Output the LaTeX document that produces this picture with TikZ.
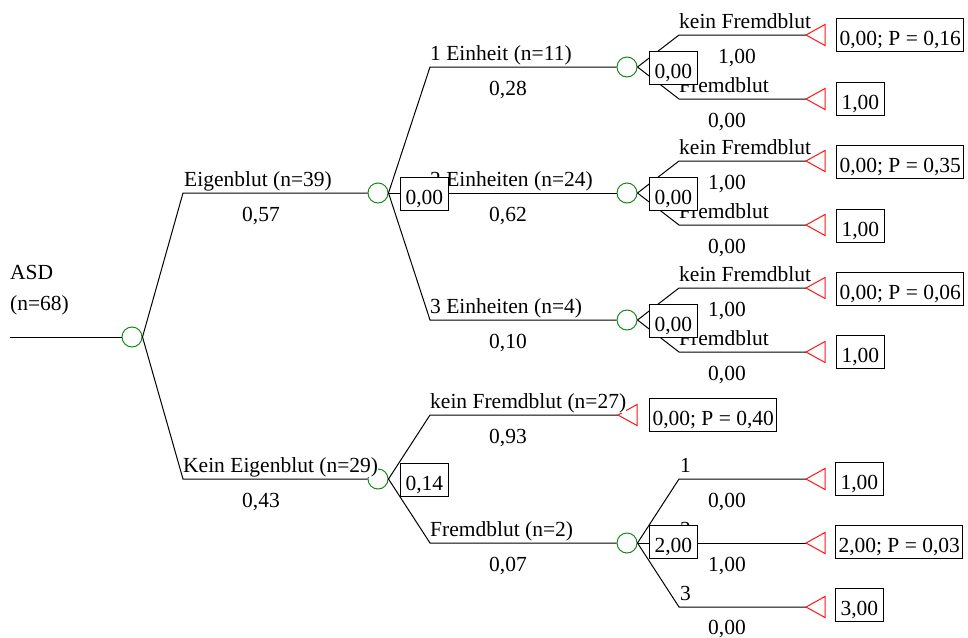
\documentclass[tikz,border=0pt]{standalone}
\usepackage{fontspec}
\setmainfont{Liberation Serif}
\definecolor{chancegreen}{RGB}{20,140,20}
\definecolor{endred}{RGB}{255,20,20}
\tikzset{
  branch/.style={line width=1pt, black},
  chance/.style={circle, draw=chancegreen, fill=white, line width=1pt, minimum size=20pt, inner sep=0pt},
  endmark/.style={draw=endred, fill=white, line width=1pt, line join=miter},
  lbl/.style={anchor=base west, fill=white, inner sep=0pt},
  prob/.style={anchor=base, inner sep=0pt},
  valbox/.style={draw, fill=white, line width=1pt, anchor=west, inner xsep=5pt, inner ysep=0pt, text height=27pt, text depth=5.5pt},
  payoff/.style={valbox, inner xsep=3pt}
}
\begin{document}
\begin{tikzpicture}[x=1pt, y=-1pt, font=\fontsize{21.5}{25}\selectfont]
\useasboundingbox (0,0) rectangle (968,637);

% chance nodes
\coordinate (root) at (10,337);
\node[chance] (c0)  at (132,337) {};
\node[chance] (c1)  at (378,193) {};
\node[chance] (c2)  at (378,479) {};
\node[chance] (c11) at (627,67) {};
\node[chance] (c12) at (627,193) {};
\node[chance] (c13) at (627,320) {};
\node[chance] (c21) at (627,543) {};

% kinks of the branches
\coordinate (k1) at (183,193);
\coordinate (k2) at (183,479);
\coordinate (k11) at (430,67);
\coordinate (k13) at (430,320);
\coordinate (k20) at (430,415);
\coordinate (k21) at (430,543);
\coordinate (k111) at (679,35);  \coordinate (k112) at (679,99);
\coordinate (k121) at (679,161); \coordinate (k122) at (679,225);
\coordinate (k131) at (679,288); \coordinate (k132) at (679,352);
\coordinate (k211) at (679,479); \coordinate (k213) at (679,607);

% terminal tips
\coordinate (e20) at (618,415);
\coordinate (e111) at (806,35);  \coordinate (e112) at (806,99);
\coordinate (e121) at (806,161); \coordinate (e122) at (806,225);
\coordinate (e131) at (806,288); \coordinate (e132) at (806,352);
\coordinate (e211) at (806,479); \coordinate (e212) at (806,543); \coordinate (e213) at (806,607);

% branches
\draw[branch] (root) -- (c0.west);
\draw[branch] (c0.east) -- (k1) -- (c1.west);
\draw[branch] (c0.east) -- (k2) -- (c2.west);
\draw[branch] (c1.east) -- (k11) -- (c11.west);
\draw[branch] (c1.east) -- (c12.west);
\draw[branch] (c1.east) -- (k13) -- (c13.west);
\draw[branch] (c2.east) -- (k20) -- (e20);
\draw[branch] (c2.east) -- (k21) -- (c21.west);
\draw[branch] (c11.east) -- (k111) -- (e111);
\draw[branch] (c11.east) -- (k112) -- (e112);
\draw[branch] (c12.east) -- (k121) -- (e121);
\draw[branch] (c12.east) -- (k122) -- (e122);
\draw[branch] (c13.east) -- (k131) -- (e131);
\draw[branch] (c13.east) -- (k132) -- (e132);
\draw[branch] (c21.east) -- (k211) -- (e211);
\draw[branch] (c21.east) -- (e212);
\draw[branch] (c21.east) -- (k213) -- (e213);

% terminal markers
\foreach \t in {e20,e111,e112,e121,e122,e131,e132,e211,e212,e213}
  \draw[endmark] (\t) -- ++(19,-10.5) -- ++(0,21) -- cycle;

% branch labels
\node[lbl] (tASD) at (10,279) {ASD};
\node[lbl] (tN68) at (10,310) {(n=68)};
\node[lbl] (l1) at (184,186.5) {Eigenblut (n=39)};
\node[lbl] (l2) at (183,472.5) {Kein Eigenblut (n=29)};
\node[lbl] (l11) at (430,60.5) {1 Einheit (n=11)};
\node[lbl] (l12) at (430,186.5) {2 Einheiten (n=24)};
\node[lbl] (l13) at (430,313.5) {3 Einheiten (n=4)};
\node[lbl] (l20) at (430,408.5) {kein Fremdblut (n=27)};
\node[lbl] (l21) at (430,536.5) {Fremdblut (n=2)};
\node[lbl] (l111) at (679,28.5) {kein Fremdblut};
\node[lbl] (l112) at (679,92.5) {Fremdblut};
\node[lbl] (l121) at (679,154.5) {kein Fremdblut};
\node[lbl] (l122) at (679,218.5) {Fremdblut};
\node[lbl] (l131) at (679,281.5) {kein Fremdblut};
\node[lbl] (l132) at (679,345.5) {Fremdblut};
\node[lbl] (l211) at (680,472.5) {1};
\node[lbl] (l212) at (680,536.5) {2};
\node[lbl] (l213) at (680,600.5) {3};

% probabilities
\node[prob] (p1) at (261,221) {0,57};
\node[prob] (p2) at (261,507) {0,43};
\node[prob] (p11) at (508,95) {0,28};
\node[prob] (p12) at (508,221) {0,62};
\node[prob] (p13) at (508,348) {0,10};
\node[prob] (p20) at (508,443) {0,93};
\node[prob] (p21) at (508,571) {0,07};
\node[prob] (p111) at (737,63) {1,00};
\node[prob] (p112) at (727,127) {0,00};
\node[prob] (p121) at (727,189) {1,00};
\node[prob] (p122) at (727,253) {0,00};
\node[prob] (p131) at (727,316) {1,00};
\node[prob] (p132) at (727,380) {0,00};
\node[prob] (p211) at (727,507) {0,00};
\node[prob] (p212) at (727,571) {1,00};
\node[prob] (p213) at (727,634) {0,00};

% expected values at chance nodes
\node[valbox] (v1)  at (400,194) {0,00};
\node[valbox] (v2)  at (400,480) {0,14};
\node[valbox] (v11) at (649,68) {0,00};
\node[valbox] (v12) at (649,194) {0,00};
\node[valbox] (v13) at (649,321) {0,00};
\node[valbox] (v21) at (649,542) {2,00};

% payoffs at terminal nodes
\node[payoff] (o20)  at (649,415) {0,00; P = 0,40};
\node[payoff] (o111) at (836,35) {0,00; P = 0,16};
\node[valbox] (o112) at (836,99) {1,00};
\node[payoff] (o121) at (836,162) {0,00; P = 0,35};
\node[valbox] (o122) at (836,226) {1,00};
\node[payoff] (o131) at (836,289) {0,00; P = 0,06};
\node[valbox] (o132) at (836,352) {1,00};
\node[valbox] (o211) at (835,479) {1,00};
\node[payoff] (o212) at (835,542) {2,00; P = 0,03};
\node[valbox] (o213) at (835,605) {3,00};
\end{tikzpicture}
\end{document}
